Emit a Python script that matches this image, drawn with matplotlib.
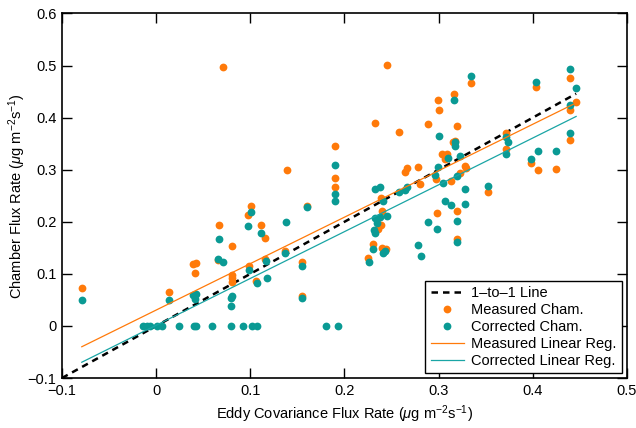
import matplotlib
import matplotlib.pyplot as plt
from matplotlib.ticker import FuncFormatter, MultipleLocator

matplotlib.use("Agg")

# Measured chamber flux vs eddy covariance flux (ug m-2 s-1)
meas_x = [
    -0.079, 0.014, 0.039, 0.042, 0.041, 0.067, 0.066, 0.071, 0.081, 0.081,
    0.081, 0.081, 0.101, 0.098, 0.099, 0.106, 0.111, 0.116, 0.116, 0.139,
    0.137, 0.155, 0.155, 0.160, 0.190, 0.190, 0.190, 0.232, 0.245, 0.239,
    0.240, 0.239, 0.236, 0.230, 0.240, 0.244, 0.225, 0.258, 0.264, 0.266,
    0.278, 0.280, 0.289, 0.297, 0.298, 0.299, 0.300, 0.304, 0.307, 0.309,
    0.313, 0.316, 0.315, 0.317, 0.319, 0.323, 0.328, 0.329, 0.320, 0.320,
    0.334, 0.352, 0.372, 0.372, 0.398, 0.403, 0.406, 0.425, 0.439, 0.439,
    0.440, 0.446,
]
meas_y = [
    0.072, 0.065, 0.118, 0.120, 0.101, 0.193, 0.127, 0.497, 0.154, 0.098,
    0.092, 0.084, 0.230, 0.213, 0.115, 0.087, 0.193, 0.169, 0.128, 0.299,
    0.143, 0.123, 0.057, 0.230, 0.346, 0.285, 0.267, 0.390, 0.502, 0.245,
    0.221, 0.193, 0.186, 0.157, 0.150, 0.147, 0.131, 0.372, 0.296, 0.303,
    0.306, 0.272, 0.387, 0.283, 0.216, 0.433, 0.415, 0.331, 0.320, 0.330,
    0.279, 0.445, 0.354, 0.356, 0.384, 0.294, 0.308, 0.303, 0.221, 0.167,
    0.466, 0.258, 0.371, 0.339, 0.312, 0.459, 0.300, 0.301, 0.477, 0.415,
    0.357, 0.430,
]

# Corrected chamber flux
corr_x = [
    -0.079, 0.014, 0.039, 0.042, 0.041, 0.067, 0.066, 0.0715, 0.081, 0.080,
    0.080, 0.101, 0.098, 0.099, 0.107, 0.111, 0.117, 0.118, 0.138, 0.137,
    0.155, 0.155, 0.160, 0.190, 0.190, 0.190, 0.232, 0.238, 0.241, 0.232,
    0.238, 0.245, 0.234, 0.231, 0.232, 0.230, 0.241, 0.243, 0.226, 0.258,
    0.264, 0.266, 0.278, 0.281, 0.289, 0.298, 0.300, 0.299, 0.296, 0.305,
    0.307, 0.310, 0.313, 0.316, 0.317, 0.317, 0.319, 0.323, 0.328, 0.328,
    0.320, 0.320, 0.334, 0.352, 0.372, 0.374, 0.372, 0.398, 0.403, 0.406,
    0.425, 0.439, 0.439, 0.440, 0.446,
    -0.0135, -0.0098, -0.0064, 0.0007, 0.0067, 0.0244, 0.0397, 0.0425,
    0.0598, 0.0796, 0.0926, 0.1021, 0.1068, 0.1805, 0.1929,
]
corr_y = [
    0.049, 0.050, 0.059, 0.061, 0.052, 0.166, 0.129, 0.122, 0.058, 0.053,
    0.038, 0.218, 0.192, 0.108, 0.082, 0.179, 0.125, 0.093, 0.199, 0.141,
    0.115, 0.053, 0.229, 0.310, 0.254, 0.239, 0.262, 0.266, 0.239, 0.207,
    0.210, 0.211, 0.197, 0.184, 0.179, 0.147, 0.141, 0.143, 0.123, 0.258,
    0.261, 0.266, 0.155, 0.134, 0.199, 0.186, 0.365, 0.305, 0.289, 0.275,
    0.239, 0.322, 0.233, 0.434, 0.354, 0.346, 0.288, 0.326, 0.263, 0.234,
    0.202, 0.161, 0.480, 0.269, 0.362, 0.354, 0.330, 0.320, 0.469, 0.336,
    0.336, 0.493, 0.424, 0.370, 0.456,
    0, 0, 0, 0, 0, 0, 0, 0, 0, 0, 0, 0, 0, 0, 0,
]

# Linear regression fits (slope, intercept)
meas_fit = (0.892, 0.0305)
corr_fit = (0.899, 0.0013)

ORANGE = "#ff7a0a"
TEAL = "#0a9a94"
TEAL_LINE = "#1aa5a5"

plt.rcParams["font.family"] = ["Liberation Sans", "DejaVu Sans"]
plt.rcParams["mathtext.fontset"] = "custom"
plt.rcParams["mathtext.rm"] = "Liberation Sans"
plt.rcParams["mathtext.it"] = "Liberation Sans:italic"

fig = plt.figure(figsize=(6.36, 4.28), dpi=100)
ax = fig.add_axes([0.0975, 0.1168, 0.8883, 0.8517])

x_lo, x_hi = min(meas_x), max(meas_x)
ax.plot([-0.1, x_hi], [-0.1, x_hi], color="black", lw=1.8,
        dashes=(2.6, 2.0), label="1\u2013to\u20131 Line")
ax.plot(meas_x, meas_y, "o", color=ORANGE, ms=5.6, mew=0,
        label="Measured Cham.")
ax.plot(corr_x, corr_y, "o", color=TEAL, ms=5.6, mew=0,
        label="Corrected Cham.")
ax.plot([x_lo, x_hi], [meas_fit[0] * x_lo + meas_fit[1], meas_fit[0] * x_hi + meas_fit[1]],
        color=ORANGE, lw=0.9, label="Measured Linear Reg.")
ax.plot([x_lo, x_hi], [corr_fit[0] * x_lo + corr_fit[1], corr_fit[0] * x_hi + corr_fit[1]],
        color=TEAL_LINE, lw=0.9, label="Corrected Linear Reg.")

ax.set_xlim(-0.1, 0.5)
ax.set_ylim(-0.1, 0.6)
ax.xaxis.set_major_locator(MultipleLocator(0.1))
ax.yaxis.set_major_locator(MultipleLocator(0.1))
fmt = FuncFormatter(lambda v, _: f"{v:g}".replace("-", "\u2212") if abs(v) > 1e-9 else "0")
ax.xaxis.set_major_formatter(fmt)
ax.yaxis.set_major_formatter(fmt)
ax.tick_params(direction="in", length=7, width=1.0, top=True, right=True,
               labelsize=10.5, pad=4)
for spine in ax.spines.values():
    spine.set_linewidth(1.2)

ax.set_xlabel(r"Eddy Covariance Flux Rate ($\mu$g m$^{-2}$s$^{-1}$)", fontsize=10.5)
ax.set_ylabel(r"Chamber Flux Rate ($\mu$g m$^{-2}$s$^{-1}$)", fontsize=10.5)
ax.xaxis.set_label_coords(0.5, -0.1)
ax.yaxis.set_label_coords(-0.08, 0.5)
ax.xaxis.label.set_va("center")
ax.yaxis.label.set_va("center")

leg = ax.legend(loc="lower right", fontsize=10.5, fancybox=False, framealpha=1,
                edgecolor="black", borderaxespad=0.35, handlelength=2.3,
                handletextpad=0.5, labelspacing=0.2, borderpad=0.35)
leg.get_frame().set_linewidth(1.0)

fig.savefig("out.png", dpi=100)
